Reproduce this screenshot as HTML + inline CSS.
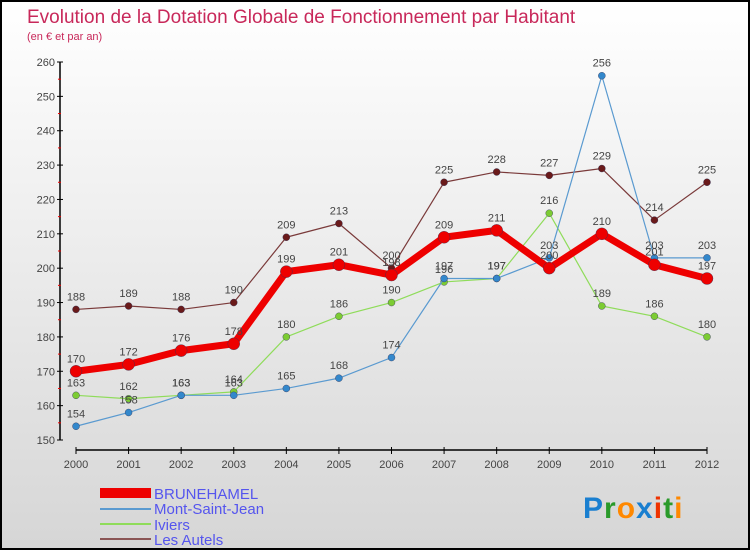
<!DOCTYPE html>
<html><head><meta charset="utf-8"><style>
body{margin:0;width:750px;height:550px;overflow:hidden;font-family:"Liberation Sans",sans-serif}
#c{position:absolute;left:0;top:0;width:746px;height:546px;border:2px solid #000;background:linear-gradient(#ffffff,#d6d6d6)}
</style></head><body>
<div id="c">
<svg id="s" width="746" height="546">
<text x="25" y="21" font-size="19" fill="#c8285a">Evolution de la Dotation Globale de Fonctionnement par Habitant</text>
<text x="25" y="38" font-size="11" fill="#c8285a">(en € et par an)</text>
<g id="axes"></g><g id="series"></g>
<g>
<rect x="98" y="486" width="51" height="10" fill="#e00"/>
<text x="152" y="497" font-size="15" fill="#5555ee">BRUNEHAMEL</text>
<rect x="98" y="506" width="51" height="2" fill="#5a9ad0"/>
<text x="152" y="512" font-size="15" fill="#5555ee">Mont-Saint-Jean</text>
<rect x="98" y="521" width="51" height="2" fill="#8fdc5a"/>
<text x="152" y="528" font-size="15" fill="#5555ee">Iviers</text>
<rect x="98" y="536" width="51" height="2" fill="#8a5555"/>
<text x="152" y="543" font-size="15" fill="#5555ee">Les Autels</text>
</g>
<text x="581" y="516" font-size="30" font-weight="bold" letter-spacing="1"><tspan fill="#1a7fd0">P</tspan><tspan fill="#2a9a2a">r</tspan><tspan fill="#ff8800">o</tspan><tspan fill="#1a7fd0">x</tspan><tspan fill="#ee3300">i</tspan><tspan fill="#2a9a2a">t</tspan><tspan fill="#ff8800">i</tspan></text>
</svg></div>
<script>
const years=[2000,2001,2002,2003,2004,2005,2006,2007,2008,2009,2010,2011,2012];
const yTicks=[150,160,170,180,190,200,210,220,230,240,250,260];
const brunehamel=[170,172,176,178,199,201,198,209,211,200,210,201,197];
const montSaintJean=[154,158,163,163,165,168,174,197,197,203,256,203,203];
const iviers=[163,162,163,164,180,186,190,196,197,216,189,186,180];
const lesAutels=[188,189,188,190,209,213,200,225,228,227,229,214,225];
const NS="http://www.w3.org/2000/svg";
const X=i=>74+i*(631/12);
const Y=v=>438-(v-150)*(378/110);
function mk(tag,attrs,parent){const e=document.createElementNS(NS,tag);for(const k in attrs)e.setAttribute(k,attrs[k]);parent.appendChild(e);return e;}
const ax=document.getElementById('axes');
let l=mk('line',{x1:58,y1:Y(260),x2:58,y2:Y(150),stroke:'#000','stroke-width':1.5},ax);


l=mk('line',{x1:X(0),y1:448,x2:X(12),y2:448,stroke:'#000','stroke-width':1.5},ax);


yTicks.forEach(v=>{
 mk('line',{x1:55,y1:Y(v),x2:61,y2:Y(v),stroke:'#000'},ax);
 if(v<260) mk('line',{x1:56,y1:Y(v+5),x2:59,y2:Y(v+5),stroke:'#e00'},ax);
 const t=mk('text',{x:53,y:Y(v)+4,'font-size':11,'text-anchor':'end',fill:'#444'},ax);t.textContent=v;
 
 
});
years.forEach((yr,i)=>{
 mk('line',{x1:X(i),y1:445,x2:X(i),y2:452,stroke:'#000'},ax);
 const t=mk('text',{x:X(i),y:466,'font-size':11,'text-anchor':'middle',fill:'#444'},ax);t.textContent=yr;
 
 
});
const sg=document.getElementById('series');
function draw(data,color,w,r,name,pt){
 const g=mk('g',{},sg);
 
 
 const p=mk('polyline',{points:data.map((v,i)=>X(i)+','+Y(v)).join(' '),fill:'none',stroke:color,'stroke-width':w,'stroke-linejoin':'round'},g);
 
 
 data.forEach((v,i)=>{
  const c=mk('circle',{cx:X(i),cy:Y(v),r:r,fill:pt,stroke:'#335','stroke-width':0.4},g);
  
  
  const t=mk('text',{x:X(i),y:Y(v)-9,'font-size':11,'text-anchor':'middle',fill:'#444'},g);t.textContent=v;
  
  
 });
}
draw(lesAutels,'#7a3a3a',1.2,3.5,'les-autels','#6a1a1a');
draw(iviers,'#8fdc5a',1.2,3.5,'iviers','#7ccc33');
draw(montSaintJean,'#5a9ad0',1.2,3.5,'mont-saint-jean','#3388cc');
draw(brunehamel,'#ee0000',7,6,'brunehamel','#ee0000');
</script>
</body></html>
